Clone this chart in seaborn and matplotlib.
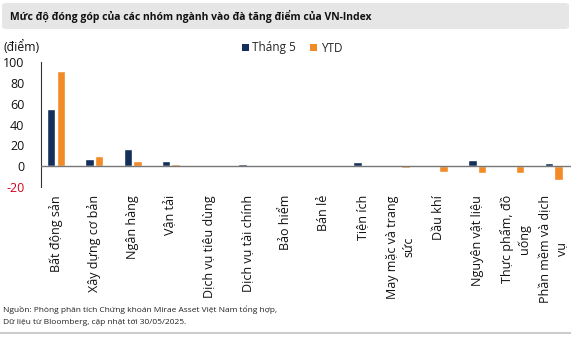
import matplotlib
matplotlib.use("Agg")
import matplotlib.pyplot as plt
import seaborn as sns
import pandas as pd
from matplotlib.patches import FancyBboxPatch, Patch
from matplotlib.lines import Line2D

categories = ["Bất động sản", "Xây dựng cơ bản", "Ngân hàng", "Vận tải",
              "Dịch vụ tiêu dùng", "Dịch vụ tài chính", "Bảo hiểm", "Bán lẻ",
              "Tiện ích", "May mặc và trang\nsức", "Dầu khí", "Nguyên vật liệu",
              "Thực phẩm, đồ\nuống", "Phần mềm và dịch\nvụ"]
thang5 = [55, 7, 16, 5, 0.2, 2, 0.5, 0.4, 4.2, 1.2, 1.0, 6, 0.2, 2.5]
ytd = [92, 10, 4.5, 2.3, 1.2, 0.3, 0.2, 0.2, -1.2, -2.2, -5.5, -7, -7, -14]
series = ["Tháng 5", "YTD"]
colors = ["#14305A", "#F28A26"]
yticks = [100, 80, 60, 40, 20, 0, -20]

sns.set_style("white")
plt.rcParams["font.family"] = ["Open Sans", "DejaVu Sans"]

df = pd.DataFrame({
    "cat": categories * 2,
    "val": thang5 + ytd,
    "series": [series[0]] * len(categories) + [series[1]] * len(categories),
})

W, H = 571, 337
fig = plt.figure(figsize=(W / 100, H / 100), dpi=100)

# title box
fig.patches.append(FancyBboxPatch((2 / W, 1 - 29 / H), (W - 4) / W, 26 / H,
                                  boxstyle="round,pad=0,rounding_size=0.008",
                                  transform=fig.transFigure, facecolor="#E6E6E6",
                                  edgecolor="none", zorder=0))
fig.text(10 / W, 1 - 16 / H, "Mức độ đóng góp của các nhóm ngành vào đà tăng điểm của VN-Index",
         fontsize=7.5, fontweight="bold", va="center", ha="left", color="#111111")

ax = fig.add_axes([41 / W, 1 - 186.7 / H, (W - 41) / W, (186.7 - 62.3) / H])
sns.barplot(data=df, x="cat", y="val", hue="series", palette=colors,
            width=0.5, gap=0.12, ax=ax, legend=False, saturation=1)
ax.set_ylim(-20, 100)
ax.set_xlim(-0.39, 13.45)
ax.set_yticks(yticks)
ax.set_yticklabels([str(v) for v in yticks], fontsize=9)
for lab, v in zip(ax.get_yticklabels(), yticks):
    lab.set_color("#D0021B" if v < 0 else "#111111")
ax.tick_params(axis="y", direction="in", length=3, width=0.8, color="#333333", pad=12)
ax.tick_params(axis="x", length=0, pad=6)
ax.set_xticks(range(len(categories)))
ax.set_xticklabels(categories, rotation=90, fontsize=9, rotation_mode="anchor",
                   va="center", ha="right", multialignment="center", color="#111111",
                   linespacing=1.35)
ax.set_xlabel("")
ax.set_ylabel("")
for s in ["top", "right", "bottom"]:
    ax.spines[s].set_visible(False)
ax.spines["left"].set_color("#333333")
ax.spines["left"].set_linewidth(0.8)
ax.axhline(0, color="#777777", lw=1, zorder=3)
ax.set_facecolor("none")

fig.text(3 / W, 1 - 47 / H, "(điểm)", fontsize=8.8, va="center", ha="left", color="#111111")

handles = [Patch(facecolor=c, edgecolor="none") for c in colors]
fig.legend(handles, series, loc="center", bbox_to_anchor=(292 / W, 1 - 48 / H),
           ncol=2, frameon=False, fontsize=8.5, handlelength=0.6, handleheight=0.6,
           handletextpad=0.3, columnspacing=1.2)

fig.text(3 / W, 1 - 310 / H, "Nguồn: Phòng phân tích Chứng khoán Mirae Asset Việt Nam tổng hợp,",
         fontsize=6.0, va="center", ha="left", color="#222222")
fig.text(3 / W, 1 - 323 / H, "Dữ liệu từ Bloomberg, cập nhật tới 30/05/2025.",
         fontsize=6.0, va="center", ha="left", color="#222222")
fig.add_artist(Line2D([0, 1], [1 - 333 / H, 1 - 333 / H], transform=fig.transFigure,
                      color="#CCCCCC", lw=1.5))

fig.savefig("out.png", dpi=100)
